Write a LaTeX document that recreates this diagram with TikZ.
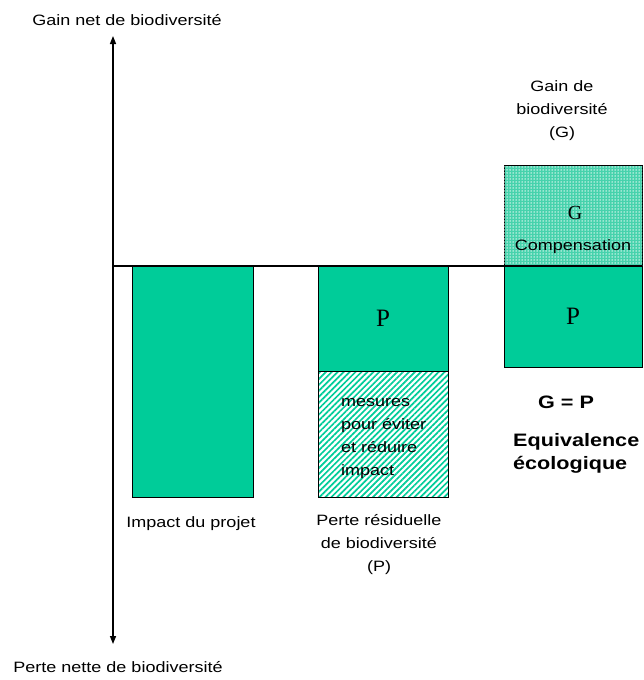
\documentclass[tikz,border=0pt]{standalone}
\usepackage{fontspec}
\setmainfont[FakeStretch=1.2]{Liberation Sans}
\newfontfamily\pfont{Liberation Serif}
\usetikzlibrary{arrows.meta,patterns.meta}
\definecolor{biogreen}{RGB}{0,204,153}
\definecolor{dotgreen}{RGB}{70,210,172}
\tikzset{
  lbl/.style={inner sep=0pt, font=\fontsize{15}{23}\selectfont, align=center},
  boldlbl/.style={inner sep=0pt, font=\fontsize{18}{23}\selectfont\bfseries, align=left},
  bar/.style={draw=black, line width=1pt, fill=biogreen, inner sep=0pt},
  hatchbar/.style={draw=black, line width=1pt, inner sep=0pt,
     pattern={Lines[angle=45,distance=4.2pt,line width=1.7pt]}, pattern color=biogreen},
  dotbar/.style={draw=black, line width=1pt, inner sep=0pt, fill=dotgreen,
     postaction={pattern={Dots[distance=3pt,radius=0.75pt]}, pattern color=white!92!dotgreen}},
  letter/.style={font=\pfont\fontsize{25}{25}\selectfont},
  axisline/.style={line width=1.4pt},
}
\begin{document}
\begin{tikzpicture}[x=1pt,y=-1pt]
\useasboundingbox (0,0) rectangle (643,680);
% bars
\node[bar, minimum width=121pt, minimum height=231pt] (b1) at (192.5,381.5) {};
\node[bar, minimum width=130pt, minimum height=105pt] (b2p) at (383,318.5) {};
\node[hatchbar, minimum width=130pt, minimum height=126pt] (b2m) at (383,434) {};
\node[dotbar, minimum width=138pt, minimum height=101pt] (b3g) at (573,215.5) {};
\node[bar, minimum width=138pt, minimum height=101pt] (b3p) at (573,316.5) {};
% letters inside bars
\node[letter] (pa) at (b2p.center) {P};
\node[letter] (pb) at (b3p.center) {P};
\node[font=\pfont\fontsize{20}{20}\selectfont] (g) at (575,213) {G};
\node[lbl] (comp) at (573,247) {Compensation};
\node[lbl, align=left, anchor=west] (mes) at (341,438.5) {mesures\\pour éviter\\et réduire\\impact};
% axes
\coordinate (ytop) at (113,36);
\coordinate (ybot) at (113,644);
\coordinate (origin) at (113,266);
\coordinate (xend) at (642,266);
\draw[axisline, {Triangle[width=6pt,length=8pt]}-{Triangle[width=6pt,length=8pt]}] (ytop) -- (ybot);
\draw[axisline] (origin) -- (xend);
% labels
\node[lbl] (gainnet) at (127,20) {Gain net de biodiversité};
\node[lbl] (pertenet) at (118,667) {Perte nette de biodiversité};
\node[lbl] (gainG) at (562,111) {Gain de\\biodiversité\\(G)};
\node[lbl] (impact) at (191,524) {Impact du projet};
\node[lbl] (perteres) at (379,545) {Perte résiduelle\\de biodiversité\\(P)};
\node[boldlbl] (geqp) at (566,402) {G = P};
\node[boldlbl, anchor=west] (equiv) at (513,453) {Equivalence\\écologique};
\end{tikzpicture}
\end{document}
